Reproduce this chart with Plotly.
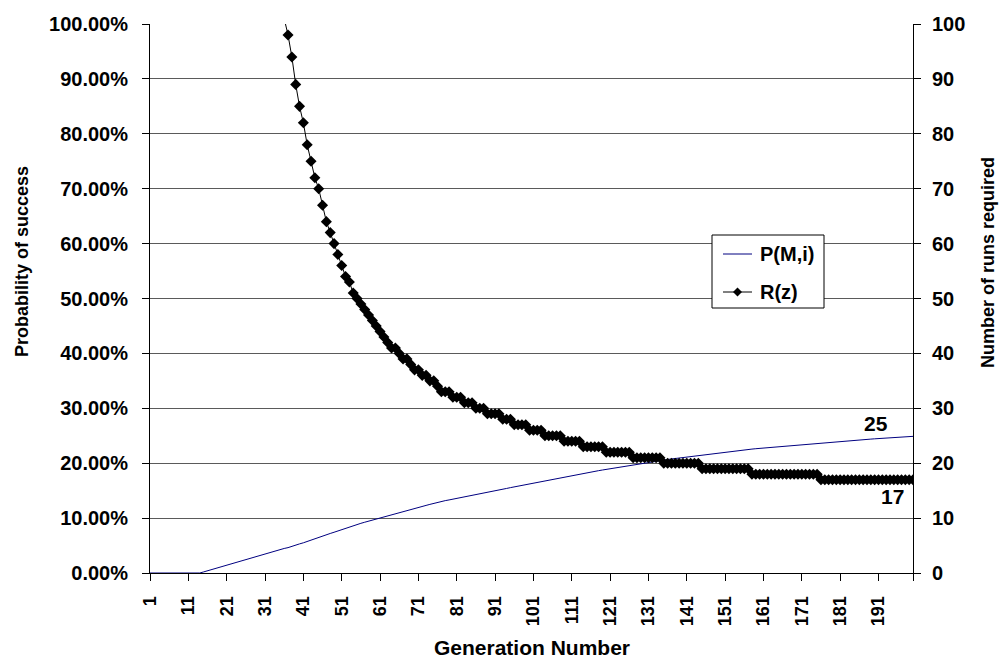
import plotly.graph_objects as go

# Generation numbers (category axis)
generations = list(range(1, 201))

# P(M,i): cumulative probability of success, in percent, one value per generation
p_success_pct = [
    0, 0, 0, 0, 0, 0, 0, 0, 0, 0,
    0, 0, 0, 0, 0.20, 0.41, 0.62, 0.83, 1.04, 1.25,
    1.46, 1.67, 1.88, 2.09, 2.30, 2.51, 2.72, 2.93, 3.14, 3.35,
    3.56, 3.77, 3.98, 4.19, 4.33, 4.47, 4.62, 4.80, 5.06, 5.30,
    5.50, 5.76, 6.00, 6.24, 6.40, 6.68, 6.98, 7.20, 7.42, 7.66,
    7.93, 8.20, 8.36, 8.68, 8.85, 9.05, 9.25, 9.45, 9.65, 9.85,
    10.04, 10.22, 10.41, 10.60, 10.79, 10.98, 11.17, 11.36, 11.55, 11.74,
    11.93, 12.12, 12.31, 12.50, 12.69, 12.88, 13.05, 13.18, 13.31, 13.44,
    13.57, 13.70, 13.83, 13.97, 14.11, 14.25, 14.39, 14.53, 14.68, 14.82,
    14.97, 15.11, 15.26, 15.40, 15.55, 15.69, 15.83, 15.97, 16.11, 16.25,
    16.39, 16.53, 16.67, 16.81, 16.94, 17.07, 17.20, 17.33, 17.46, 17.60,
    17.74, 17.88, 18.02, 18.15, 18.27, 18.39, 18.52, 18.64, 18.76, 18.88,
    19.00, 19.11, 19.23, 19.34, 19.46, 19.57, 19.69, 19.80, 19.91, 20.02,
    20.13, 20.24, 20.35, 20.46, 20.57, 20.67, 20.77, 20.86, 20.96, 21.05,
    21.15, 21.24, 21.34, 21.43, 21.53, 21.61, 21.69, 21.77, 21.85, 21.93,
    22.01, 22.09, 22.17, 22.25, 22.33, 22.41, 22.49, 22.57, 22.64, 22.70,
    22.77, 22.83, 22.90, 22.96, 23.03, 23.09, 23.16, 23.22, 23.29, 23.35,
    23.42, 23.48, 23.55, 23.61, 23.68, 23.74, 23.79, 23.84, 23.89, 23.94,
    23.99, 24.04, 24.09, 24.14, 24.19, 24.24, 24.29, 24.34, 24.39, 24.44,
    24.49, 24.53, 24.58, 24.62, 24.67, 24.71, 24.76, 24.80, 24.85, 24.89,
]

# R(z): number of runs required, from generation 36 onward
r_generations = list(range(36, 201))
runs_required = [
    101, 98, 94, 89, 85, 82, 78, 75, 72, 70,
    67, 64, 62, 60, 58, 56, 54, 53, 51, 50,
    49, 48, 47, 46, 45, 44, 43, 42, 41, 41,
    40, 39, 39, 38, 37, 37, 36, 36, 35, 35,
    34, 33, 33, 33, 32, 32, 32, 31, 31, 31,
    30, 30, 30, 29, 29, 29, 29, 28, 28, 28,
    27, 27, 27, 27, 26, 26, 26, 26, 25, 25,
    25, 25, 25, 24, 24, 24, 24, 24, 23, 23,
    23, 23, 23, 23, 22, 22, 22, 22, 22, 22,
    22, 21, 21, 21, 21, 21, 21, 21, 21, 20,
    20, 20, 20, 20, 20, 20, 20, 20, 20, 19,
    19, 19, 19, 19, 19, 19, 19, 19, 19, 19,
    19, 19, 18, 18, 18, 18, 18, 18, 18, 18,
    18, 18, 18, 18, 18, 18, 18, 18, 18, 18,
    17, 17, 17, 17, 17, 17, 17, 17, 17, 17,
    17, 17, 17, 17, 17, 17, 17, 17, 17, 17,
    17, 17, 17, 17, 17,
]

x_tick_vals = [1, 11, 21, 31, 41, 51, 61, 71, 81, 91, 101, 111, 121, 131, 141, 151, 161, 171, 181, 191, 200]
x_tick_text = ["1", "11", "21", "31", "41", "51", "61", "71", "81", "91", "101", "111", "121",
               "131", "141", "151", "161", "171", "181", "191", ""]

series_names = ["P(M,i)", "R(z)"]

FONT = "Liberation Sans, Arial, sans-serif"
W, H = 1002, 659
ML, MR, MT, MB = 150, 89, 24, 86
PW, PH = W - ML - MR, H - MT - MB


def px_x(px):
    return (px - ML) / PW


def px_y(py):
    return (H - MB - py) / PH


p_frac = [v / 100.0 for v in p_success_pct]

fig = go.Figure()
fig.add_trace(go.Scatter(
    x=generations, y=p_frac, name=series_names[0], mode="lines",
    line=dict(color="#000080", width=1), yaxis="y",
))
fig.add_trace(go.Scatter(
    x=r_generations, y=runs_required, name=series_names[1], mode="lines+markers",
    line=dict(color="black", width=1),
    marker=dict(symbol="diamond", size=8.5, color="black"),
    yaxis="y2",
))

bold = lambda s: dict(family=FONT, size=s, color="black", weight="bold")

# end-of-series value labels
fig.add_annotation(
    x=generations[-1], y=p_frac[-1], xref="x", yref="y",
    text=str(round(p_success_pct[-1])), showarrow=False,
    xshift=-37, yshift=13, font=bold(21),
)
fig.add_annotation(
    x=r_generations[-1], y=runs_required[-1], xref="x", yref="y2",
    text=str(runs_required[-1]), showarrow=False,
    xshift=-21, yshift=-17, font=bold(21),
)

# axis titles
fig.add_annotation(x=px_x(22), y=px_y(262), xref="paper", yref="paper",
                   text="Probability of success", textangle=-90, showarrow=False,
                   xanchor="center", yanchor="middle", font=bold(18))
fig.add_annotation(x=px_x(988), y=px_y(263), xref="paper", yref="paper",
                   text="Number of runs required", textangle=-90, showarrow=False,
                   xanchor="center", yanchor="middle", font=bold(18))
fig.add_annotation(x=0.5, y=px_y(647), xref="paper", yref="paper",
                   text="Generation Number", showarrow=False,
                   xanchor="center", yanchor="middle", font=bold(21))

# legend box (drawn to match the original's compact layout)
fig.add_shape(type="rect", xref="paper", yref="paper",
              x0=px_x(712), x1=px_x(824), y0=px_y(235), y1=px_y(308),
              line=dict(color="black", width=1), fillcolor="white", layer="above")
fig.add_shape(type="line", xref="paper", yref="paper",
              x0=px_x(723), x1=px_x(752), y0=px_y(254), y1=px_y(254),
              line=dict(color="#000080", width=1), layer="above")
fig.add_shape(type="line", xref="paper", yref="paper",
              x0=px_x(723), x1=px_x(752), y0=px_y(292), y1=px_y(292),
              line=dict(color="black", width=1), layer="above")
cx, cy, r = 737.5, 292, 4.5
fig.add_shape(type="path", xref="paper", yref="paper", layer="above",
              path=(f"M {px_x(cx)},{px_y(cy - r)} L {px_x(cx + r)},{px_y(cy)} "
                    f"L {px_x(cx)},{px_y(cy + r)} L {px_x(cx - r)},{px_y(cy)} Z"),
              fillcolor="black", line=dict(color="black", width=0))
fig.add_annotation(x=px_x(758), y=px_y(254), xref="paper", yref="paper",
                   text=series_names[0], showarrow=False, xanchor="left",
                   yanchor="middle", font=bold(20))
fig.add_annotation(x=px_x(758), y=px_y(292), xref="paper", yref="paper",
                   text=series_names[1], showarrow=False, xanchor="left",
                   yanchor="middle", font=bold(20))

fig.update_layout(
    width=W, height=H,
    margin=dict(l=ML, r=MR, t=MT, b=MB, pad=0),
    plot_bgcolor="white", paper_bgcolor="white",
    font=bold(20),
    showlegend=False,
    xaxis=dict(
        range=[1, 200], tickmode="array", tickvals=x_tick_vals, ticktext=x_tick_text,
        tickangle=-90, ticks="outside", ticklen=7, tickcolor="black",
        showline=True, linecolor="black", linewidth=1,
        showgrid=False, zeroline=False,
        tickfont=bold(18), ticklabelstandoff=8, automargin=False,
    ),
    yaxis=dict(
        range=[0, 1], dtick=0.1, tick0=0, tickformat=".2%",
        ticks="outside", ticklen=7, tickcolor="black",
        showline=True, linecolor="black", linewidth=1,
        showgrid=True, gridcolor="#5a5a5a", gridwidth=1, zeroline=False,
        tickfont=bold(20), ticklabelstandoff=10, automargin=False,
    ),
    yaxis2=dict(
        range=[0, 100], dtick=10, tick0=0, overlaying="y", side="right",
        ticks="outside", ticklen=7, tickcolor="black",
        showline=True, linecolor="black", linewidth=1,
        showgrid=False, zeroline=False,
        tickfont=bold(20), ticklabelstandoff=7, automargin=False,
    ),
)

fig.write_html("out.html", config={"displayModeBar": False},
               post_script="document.body.style.margin='0px';document.body.style.overflow='hidden';")
